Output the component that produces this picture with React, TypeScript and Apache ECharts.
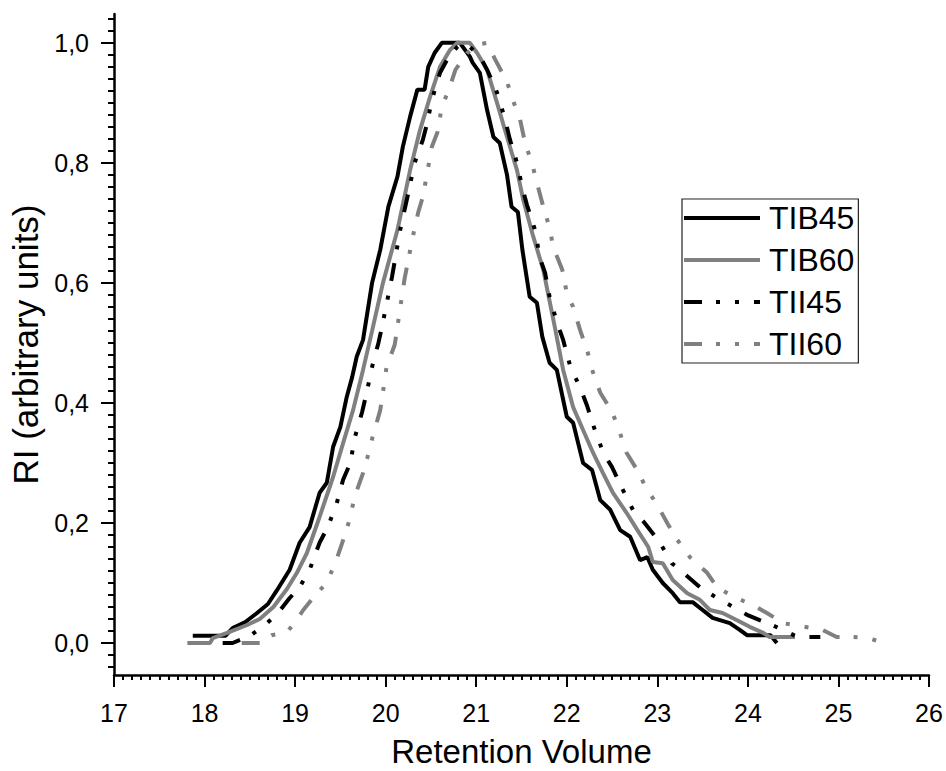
import React, { useEffect, useRef } from 'react';
import * as echarts from 'echarts';

// ---------- data ----------
const seriesNames = ['TIB45', 'TIB60', 'TII45', 'TII60'];
const xTickRange = [17, 26];
const yRange = [-0.0533, 1.048];
const yMajorTicks = [0, 0.2, 0.4, 0.6, 0.8, 1.0];
const yMinorTicks = [
  -0.04, -0.02, 0.02, 0.04, 0.06, 0.08, 0.1, 0.12, 0.14, 0.16, 0.18,
  0.22, 0.24, 0.26, 0.28, 0.3, 0.32, 0.34, 0.36, 0.38,
  0.42, 0.44, 0.46, 0.48, 0.5, 0.52, 0.54, 0.56, 0.58,
  0.62, 0.64, 0.66, 0.68, 0.7, 0.72, 0.74, 0.76, 0.78,
  0.82, 0.84, 0.86, 0.88, 0.9, 0.92, 0.94, 0.96, 0.98,
  1.02, 1.04,
];

const tib45: [number, number][] = [
  [17.87, 0.012], [18.23, 0.012], [18.31, 0.025], [18.45, 0.035], [18.58, 0.05], [18.7, 0.065],
  [18.8, 0.088], [18.94, 0.122], [19.05, 0.167], [19.16, 0.193], [19.27, 0.25], [19.35, 0.267],
  [19.42, 0.327], [19.5, 0.36], [19.57, 0.41], [19.63, 0.443], [19.68, 0.477], [19.75, 0.505],
  [19.85, 0.6], [19.94, 0.655], [20.03, 0.727], [20.13, 0.777], [20.19, 0.827], [20.27, 0.877],
  [20.35, 0.922], [20.43, 0.922], [20.47, 0.96], [20.54, 0.983], [20.62, 1.0], [20.82, 1.0],
  [20.93, 0.977], [20.96, 0.967], [21.04, 0.95], [21.12, 0.888], [21.19, 0.843], [21.26, 0.833],
  [21.34, 0.78], [21.39, 0.727], [21.46, 0.718], [21.51, 0.655], [21.59, 0.577], [21.67, 0.567],
  [21.73, 0.51], [21.81, 0.467], [21.89, 0.455], [22.0, 0.377], [22.07, 0.367], [22.18, 0.3],
  [22.28, 0.288], [22.37, 0.238], [22.48, 0.222], [22.59, 0.188], [22.7, 0.177], [22.81, 0.138],
  [22.89, 0.143], [22.95, 0.122], [23.06, 0.1], [23.17, 0.083], [23.25, 0.068], [23.39, 0.068],
  [23.5, 0.055], [23.61, 0.042], [23.8, 0.033], [23.91, 0.022], [23.99, 0.013], [24.25, 0.013],
  [24.32, 0.0],
];

const tib60: [number, number][] = [
  [17.81, 0.0], [18.06, 0.0], [18.09, 0.008], [18.25, 0.017], [18.47, 0.03], [18.61, 0.04],
  [18.76, 0.06], [18.91, 0.09], [19.02, 0.117], [19.13, 0.15], [19.27, 0.21], [19.42, 0.277],
  [19.53, 0.333], [19.64, 0.388], [19.75, 0.455], [19.85, 0.52], [19.97, 0.6], [20.13, 0.688],
  [20.27, 0.788], [20.38, 0.855], [20.49, 0.91], [20.6, 0.96], [20.71, 0.988], [20.79, 1.0],
  [20.93, 1.0], [21.01, 0.983], [21.12, 0.955], [21.23, 0.9], [21.34, 0.843], [21.45, 0.788],
  [21.52, 0.738], [21.63, 0.677], [21.74, 0.622], [21.85, 0.54], [21.96, 0.455], [22.07, 0.393],
  [22.18, 0.355], [22.29, 0.317], [22.4, 0.283], [22.51, 0.25], [22.66, 0.217], [22.78, 0.188],
  [22.9, 0.16], [22.95, 0.135], [23.06, 0.133], [23.17, 0.105], [23.33, 0.083], [23.47, 0.072],
  [23.58, 0.055], [23.72, 0.05], [23.88, 0.038], [24.02, 0.027], [24.17, 0.017], [24.24, 0.01],
  [24.52, 0.01],
];

const tii45: [number, number][] = [
  [18.2, 0.0], [18.31, 0.0], [18.5, 0.012], [18.65, 0.028], [18.8, 0.048], [18.94, 0.075],
  [19.05, 0.093], [19.16, 0.122], [19.27, 0.167], [19.36, 0.193], [19.46, 0.233], [19.53, 0.272],
  [19.61, 0.3], [19.66, 0.343], [19.74, 0.385], [19.79, 0.417], [19.85, 0.46], [19.92, 0.5],
  [19.96, 0.527], [20.07, 0.61], [20.16, 0.688], [20.24, 0.743], [20.32, 0.8], [20.41, 0.838],
  [20.46, 0.867], [20.51, 0.905], [20.6, 0.95], [20.69, 0.975], [20.79, 0.993], [20.85, 1.0],
  [20.93, 0.993], [21.04, 0.978], [21.13, 0.952], [21.23, 0.917], [21.32, 0.872], [21.37, 0.84],
  [21.45, 0.8], [21.51, 0.758], [21.56, 0.73], [21.65, 0.688], [21.7, 0.643], [21.76, 0.617],
  [21.81, 0.577], [21.89, 0.535], [21.96, 0.505], [22.04, 0.46], [22.15, 0.425], [22.22, 0.397],
  [22.31, 0.355], [22.4, 0.318], [22.5, 0.293], [22.62, 0.255], [22.73, 0.222], [22.86, 0.2],
  [23.03, 0.167], [23.16, 0.133], [23.28, 0.118], [23.47, 0.093], [23.66, 0.075], [23.84, 0.06],
  [23.99, 0.047], [24.13, 0.038], [24.22, 0.033], [24.37, 0.023], [24.55, 0.01], [24.8, 0.01],
];

const tii60: [number, number][] = [
  [18.41, 0.0], [18.61, 0.0], [18.74, 0.013], [18.91, 0.018], [19.0, 0.035], [19.09, 0.055],
  [19.24, 0.083], [19.35, 0.1], [19.46, 0.14], [19.55, 0.18], [19.6, 0.205], [19.66, 0.245],
  [19.75, 0.283], [19.8, 0.31], [19.85, 0.34], [19.94, 0.388], [19.97, 0.418], [20.01, 0.46],
  [20.1, 0.497], [20.13, 0.527], [20.21, 0.608], [20.3, 0.677], [20.36, 0.718], [20.41, 0.743],
  [20.47, 0.793], [20.51, 0.827], [20.57, 0.85], [20.62, 0.893], [20.71, 0.927], [20.77, 0.955],
  [20.9, 0.983], [21.01, 0.997], [21.12, 1.0], [21.21, 0.972], [21.34, 0.935], [21.41, 0.902],
  [21.48, 0.875], [21.54, 0.833], [21.62, 0.797], [21.67, 0.767], [21.74, 0.727], [21.81, 0.692],
  [21.85, 0.66], [21.95, 0.622], [22.0, 0.583], [22.07, 0.56], [22.15, 0.52], [22.23, 0.485],
  [22.28, 0.455], [22.37, 0.417], [22.5, 0.385], [22.57, 0.358], [22.66, 0.317], [22.79, 0.285],
  [22.86, 0.263], [23.01, 0.227], [23.12, 0.197], [23.22, 0.172], [23.36, 0.143], [23.55, 0.117],
  [23.66, 0.093], [23.84, 0.077], [24.06, 0.063], [24.21, 0.05], [24.39, 0.033], [24.82, 0.022],
  [24.98, 0.01], [25.16, 0.01], [25.33, 0.008], [25.51, 0.0],
];

const seriesData = [tib45, tib60, tii45, tii60];

// ---------- styles ----------
const FONT = '"Liberation Sans", Arial, Helvetica, sans-serif';
const BLACK = '#000000';
const GRAY = '#808080';
const DASH_DOT_DOT = [18, 14, 4, 15, 4, 15];
const seriesColors = [BLACK, GRAY, BLACK, GRAY];
const seriesTypes: any[] = ['solid', 'solid', DASH_DOT_DOT, DASH_DOT_DOT];

const fmtComma = (v: number) => v.toFixed(1).replace('.', ',');

export default function App() {
  const ref = useRef<HTMLDivElement>(null);

  useEffect(() => {
    if (!ref.current) return;
    const chart = echarts.init(ref.current, null, { renderer: 'svg' });
    const axisLineStyle = { color: BLACK, width: 2.5 };
    const tickLineStyle = { color: BLACK, width: 2 };

    chart.setOption({
      animation: false,
      backgroundColor: '#ffffff',
      textStyle: { fontFamily: FONT },
      grid: {
        left: 114,
        right: 17,
        top: 14,
        bottom: 96,
        containLabel: false,
        outerBoundsMode: 'none',
      },
      xAxis: {
        type: 'value',
        min: xTickRange[0],
        max: xTickRange[1],
        interval: 1,
        name: 'Retention Volume',
        nameLocation: 'middle',
        nameGap: 60,
        nameTextStyle: { fontSize: 33, color: BLACK, fontFamily: FONT },
        axisLine: { show: true, onZero: false, lineStyle: axisLineStyle },
        axisTick: { show: true, inside: false, length: 12, lineStyle: tickLineStyle },
        minorTick: { show: true, splitNumber: 10, length: 5, lineStyle: tickLineStyle },
        axisLabel: {
          fontSize: 25,
          color: BLACK,
          margin: 25,
          fontFamily: FONT,
          formatter: (v: number) => String(Math.round(v)),
        },
        splitLine: { show: false },
        minorSplitLine: { show: false },
      },
      yAxis: [
        {
          type: 'value',
          min: yRange[0],
          max: yRange[1],
          position: 'left',
          name: 'RI (arbitrary units)',
          nameLocation: 'middle',
          nameGap: 70,
          nameRotate: 90,
          nameTextStyle: { fontSize: 35, color: BLACK, fontFamily: FONT },
          axisLine: { show: true, onZero: false, lineStyle: axisLineStyle },
          axisTick: {
            show: true,
            inside: false,
            length: 13,
            customValues: yMajorTicks,
            lineStyle: tickLineStyle,
          },
          axisLabel: {
            show: true,
            customValues: yMajorTicks,
            fontSize: 25,
            color: BLACK,
            margin: 25,
            fontFamily: FONT,
            formatter: (v: number) => fmtComma(v),
          },
          splitLine: { show: false },
        },
        {
          type: 'value',
          min: yRange[0],
          max: yRange[1],
          position: 'left',
          offset: 0,
          axisLine: { show: false, onZero: false },
          axisTick: {
            show: true,
            inside: false,
            length: 6,
            customValues: yMinorTicks,
            lineStyle: tickLineStyle,
          },
          axisLabel: { show: false },
          splitLine: { show: false },
        },
      ],
      legend: {
        orient: 'vertical',
        left: 682,
        top: 199,
        padding: [3, 4, 3, 0],
        itemGap: 10,
        itemWidth: 76,
        itemHeight: 32,
        borderColor: '#222222',
        borderWidth: 1.2,
        selectedMode: false,
        itemStyle: { opacity: 0 },
        lineStyle: { width: 4 },
        textStyle: { fontSize: 32, color: BLACK, fontFamily: FONT, padding: [0, 0, 0, 4] },
        data: seriesNames,
      },
      series: seriesNames.map((name, i) => ({
        name,
        type: 'line',
        data: seriesData[i],
        yAxisIndex: 0,
        showSymbol: false,
        symbol: 'none',
        smooth: false,
        clip: false,
        lineStyle: { color: seriesColors[i], width: 4, type: seriesTypes[i], cap: 'butt' },
        itemStyle: { color: seriesColors[i] },
        emphasis: { disabled: true },
      })),
    });

    return () => chart.dispose();
  }, []);

  return (
    <div
      ref={ref}
      style={{ position: 'absolute', left: 0, top: 0, width: 946, height: 771, background: '#fff' }}
    />
  );
}
